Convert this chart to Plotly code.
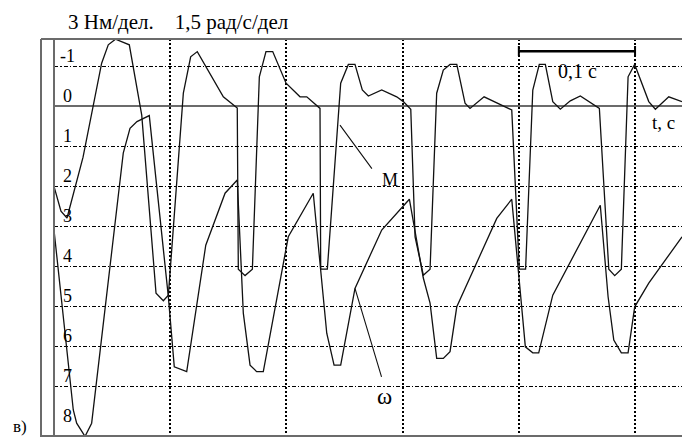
import plotly.graph_objects as go

# time, s
t_M = [0.0, 0.0060, 0.0112, 0.0250, 0.0410, 0.0467, 0.0529, 0.0648, 0.0755, 0.0878,
       0.0941, 0.0984, 0.1113, 0.1176, 0.1233, 0.1457, 0.1577, 0.1586, 0.1644, 0.1707,
       0.1767, 0.1824, 0.1882, 0.1997, 0.2117, 0.2175, 0.2289, 0.2295, 0.2352, 0.2467,
       0.2533, 0.2590, 0.2653, 0.2705, 0.2820, 0.2949, 0.3006, 0.3070, 0.3107, 0.3178,
       0.3236, 0.3293, 0.3350, 0.3408, 0.3466, 0.3522, 0.3537, 0.3580, 0.3701, 0.3910,
       0.3939, 0.4004, 0.4058, 0.4120, 0.4176, 0.4228, 0.4292, 0.4357, 0.4443, 0.4529,
       0.4693, 0.4774, 0.4825, 0.4882, 0.4940, 0.4997, 0.5118, 0.5175, 0.5290, 0.5404]
M_vals = [2.01, 2.63, 2.80, 1.28, -1.07, -1.53, -1.67, -1.53, 0.23, 4.68,
          4.87, 4.73, -0.32, -1.23, -1.36, -0.23, 0.05, 4.08, 4.24, 4.08,
          -0.73, -1.36, -1.36, -0.57, -0.23, -0.23, 0.06, 4.08, 4.08, -0.57,
          -1.04, -1.04, -0.40, -0.25, -0.40, -0.23, -0.11, 0.08, 3.27, 4.23,
          4.08, -0.32, -0.90, -1.04, -1.04, -0.28, -0.07, 0.06, -0.23, 0.06,
          0.10, 4.08, 4.08, -0.40, -1.04, -1.04, -0.11, 0.08, -0.13, -0.25,
          0.06, 4.08, 4.24, 4.08, -0.73, -1.04, -0.11, 0.08, -0.23, -0.11]

t_w = [0.0, 0.0166, 0.0195, 0.0267, 0.0324, 0.0596, 0.0654, 0.0714, 0.0820, 0.0984,
       0.1035, 0.1142, 0.1306, 0.1472, 0.1577, 0.1629, 0.1687, 0.1744, 0.1801, 0.2016,
       0.2231, 0.2347, 0.2410, 0.2467, 0.2590, 0.2820, 0.3058, 0.3178, 0.3236, 0.3293,
       0.3350, 0.3408, 0.3466, 0.3810, 0.3939, 0.4056, 0.4120, 0.4171, 0.4292, 0.4701,
       0.4768, 0.4817, 0.4882, 0.4940, 0.4997, 0.5118, 0.5404]
w_vals = [3.10, 7.60, 7.93, 8.26, 7.93, 1.18, 0.56, 0.39, 0.24, 4.77,
          6.52, 6.64, 3.48, 2.18, 1.85, 5.18, 6.48, 6.64, 6.64, 3.27,
          2.18, 5.68, 6.48, 6.48, 4.56, 3.10, 2.33, 4.30, 4.93, 6.31,
          6.31, 6.14, 5.02, 2.81, 2.33, 6.02, 6.17, 6.17, 4.73, 2.48,
          4.77, 5.85, 6.17, 6.17, 5.02, 4.43, 3.27]

x_grid = [0.1, 0.2, 0.3, 0.4, 0.5]
y_grid = [-1, 1, 2, 3, 4, 5, 6, 7]
y_labels = ["-1", "0", "1", "2", "3", "4", "5", "6", "7", "8"]
y_label_vals = [-1, 0, 1, 2, 3, 4, 5, 6, 7, 8]

X_MAX = 0.5404
Y_TOP = -1.675
Y_BOT = 8.25

SERIF = "Liberation Serif, Times New Roman, serif"
LINE = "#111111"
FRAME = "#6b6b6b"

fig = go.Figure()
fig.add_trace(go.Scatter(x=t_M, y=M_vals, mode="lines", name="M",
                         line=dict(color=LINE, width=1.3), showlegend=False))
fig.add_trace(go.Scatter(x=t_w, y=w_vals, mode="lines", name="ω",
                         line=dict(color=LINE, width=1.3), showlegend=False))

fig.update_layout(
    width=682, height=437,
    margin=dict(l=54, r=0, t=39, b=1),
    paper_bgcolor="white", plot_bgcolor="white",
    showlegend=False,
    xaxis=dict(range=[0, X_MAX], tickvals=x_grid, showticklabels=False,
               showgrid=True, gridcolor="black", gridwidth=2, griddash="2px,2px",
               zeroline=False, showline=False, ticks=""),
    yaxis=dict(range=[Y_BOT, Y_TOP], tickvals=y_grid, showticklabels=False,
               showgrid=True, gridcolor="black", gridwidth=1.3,
               griddash="4px,2px,1.5px,2px",
               zeroline=True, zerolinecolor=FRAME, zerolinewidth=1.6,
               showline=False, ticks=""),
)

# frame lines (paper coordinates)
fx0 = -13 / 628.0
shapes = [
    dict(type="line", xref="paper", yref="paper", x0=0, x1=0, y0=0, y1=1,
         line=dict(color=FRAME, width=2)),
    dict(type="line", xref="paper", yref="paper", x0=fx0, x1=fx0, y0=-0.01, y1=1,
         line=dict(color=FRAME, width=2)),
    dict(type="line", xref="paper", yref="paper", x0=fx0, x1=1, y0=1, y1=1,
         line=dict(color=FRAME, width=2)),
    dict(type="line", xref="paper", yref="paper", x0=fx0, x1=1, y0=0, y1=0,
         line=dict(color=FRAME, width=2)),
    # 0,1 s scale bar
    dict(type="line", xref="x", yref="y", x0=0.4, x1=0.5, y0=-1.37, y1=-1.37,
         line=dict(color="black", width=2.5)),
    dict(type="line", xref="x", yref="y", x0=0.4, x1=0.4, y0=-1.5, y1=-1.25,
         line=dict(color="black", width=2)),
    dict(type="line", xref="x", yref="y", x0=0.5, x1=0.5, y0=-1.5, y1=-1.25,
         line=dict(color="black", width=2)),
]
fig.update_layout(shapes=shapes)

ann = []
for lab, v in zip(y_labels, y_label_vals):
    ann.append(dict(x=0.0115, y=v - 0.25, xref="x", yref="y", text=lab,
                    showarrow=False, font=dict(family=SERIF, size=18, color="black"),
                    xanchor="center", yanchor="middle"))

ann += [
    dict(x=178, y=437 - 22, xref="paper", yref="paper", text="3 Нм/дел.    1,5 рад/с/дел",
         showarrow=False, font=dict(family=SERIF, size=21, color="black"),
         xanchor="center", yanchor="middle"),
    dict(x=0.4505, y=-0.88, xref="x", yref="y", text="0,1 с", showarrow=False,
         font=dict(family=SERIF, size=20, color="black"), xanchor="center", yanchor="middle"),
    dict(x=0.5245, y=0.4, xref="x", yref="y", text="t, с", showarrow=False,
         font=dict(family=SERIF, size=19, color="black"), xanchor="center", yanchor="middle"),
    dict(x=0.2895, y=1.85, xref="x", yref="y", text="M", showarrow=False,
         font=dict(family=SERIF, size=18, color="black"), xanchor="center", yanchor="middle"),
    dict(x=0.2840, y=7.25, xref="x", yref="y", text="ω", showarrow=False,
         font=dict(family=SERIF, size=23, color="black"), xanchor="center", yanchor="middle"),
    # leader lines
    dict(x=0.2461, y=0.48, xref="x", yref="y", text="", showarrow=True, arrowhead=0,
         arrowwidth=1.1, arrowcolor=LINE, ax=33, ay=45, standoff=0, startstandoff=0),
    dict(x=0.2590, y=4.56, xref="x", yref="y", text="", showarrow=True, arrowhead=0,
         arrowwidth=1.1, arrowcolor=LINE, ax=27, ay=90, standoff=0, startstandoff=0),
    dict(x=20, y=437 - 426, xref="paper", yref="paper", text="в)", showarrow=False,
         font=dict(family=SERIF, size=17, color="black"), xanchor="center", yanchor="middle"),
]

# convert pixel-positioned paper annotations to paper fractions
for a in ann:
    if a.get("xref") == "paper":
        a["x"] = (a["x"] - 54) / 628.0
        a["y"] = (a["y"] - 1) / 397.0
fig.update_layout(annotations=ann)

fig.write_html("out.html", config={"displayModeBar": False},
               post_script="document.body.style.margin='0';document.body.style.overflow='hidden';")
